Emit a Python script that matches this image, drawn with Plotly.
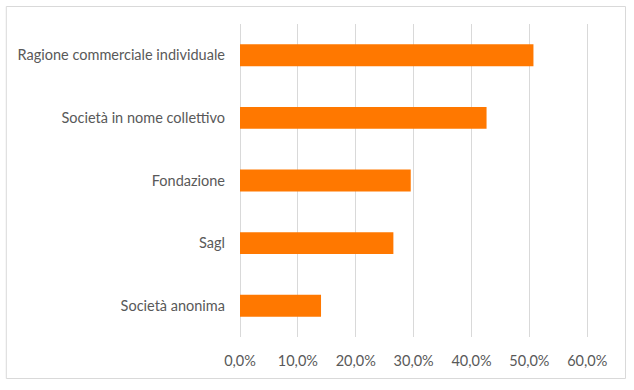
import plotly.graph_objects as go

categories = ["Società anonima", "Sagl", "Fondazione", "Società in nome collettivo", "Ragione commerciale individuale"]
values = [0.140, 0.265, 0.295, 0.426, 0.507]
tick_vals = [0, 0.1, 0.2, 0.3, 0.4, 0.5, 0.6]
tick_text = ["0,0%", "10,0%", "20,0%", "30,0%", "40,0%", "50,0%", "60,0%"]

fig = go.Figure(go.Bar(
    x=values, y=categories, orientation="h",
    marker=dict(color="#FF7800", line=dict(width=0)),
    width=0.35,
))

W, H = 634, 390
L, R = 239.7, 622.5
T, B = 24, 337
fig.update_layout(
    width=W, height=H,
    margin=dict(l=L, r=W - R, t=T, b=H - B),
    paper_bgcolor="white", plot_bgcolor="white",
    font=dict(family="Lato, Open Sans, sans-serif", size=14.5, color="#595959"),
    showlegend=False,
    hovermode=False,
    xaxis=dict(range=[0, 0.66], tickvals=tick_vals, ticktext=tick_text,
               showgrid=True, gridcolor="#d9d9d9", gridwidth=1,
               zeroline=True, zerolinecolor="#d9d9d9", zerolinewidth=1,
               showline=False, ticks="", ticklabelstandoff=13, fixedrange=True),
    yaxis=dict(showgrid=False, zeroline=False, showline=False, ticks="",
               ticklabelstandoff=14, range=[-0.5, 4.5], fixedrange=True),
    shapes=[dict(type="rect", xref="paper", yref="paper",
                 x0=(5.5 - L) / (R - L), x1=(626 - L) / (R - L),
                 y0=(B - 378.5) / (B - T), y1=(B - 6.5) / (B - T),
                 line=dict(color="#d9d9d9", width=1), fillcolor="rgba(0,0,0,0)",
                 layer="below")],
)
fig.write_html("out.html", config={"displayModeBar": False, "staticPlot": True},
               post_script="document.body.style.margin='0';")
